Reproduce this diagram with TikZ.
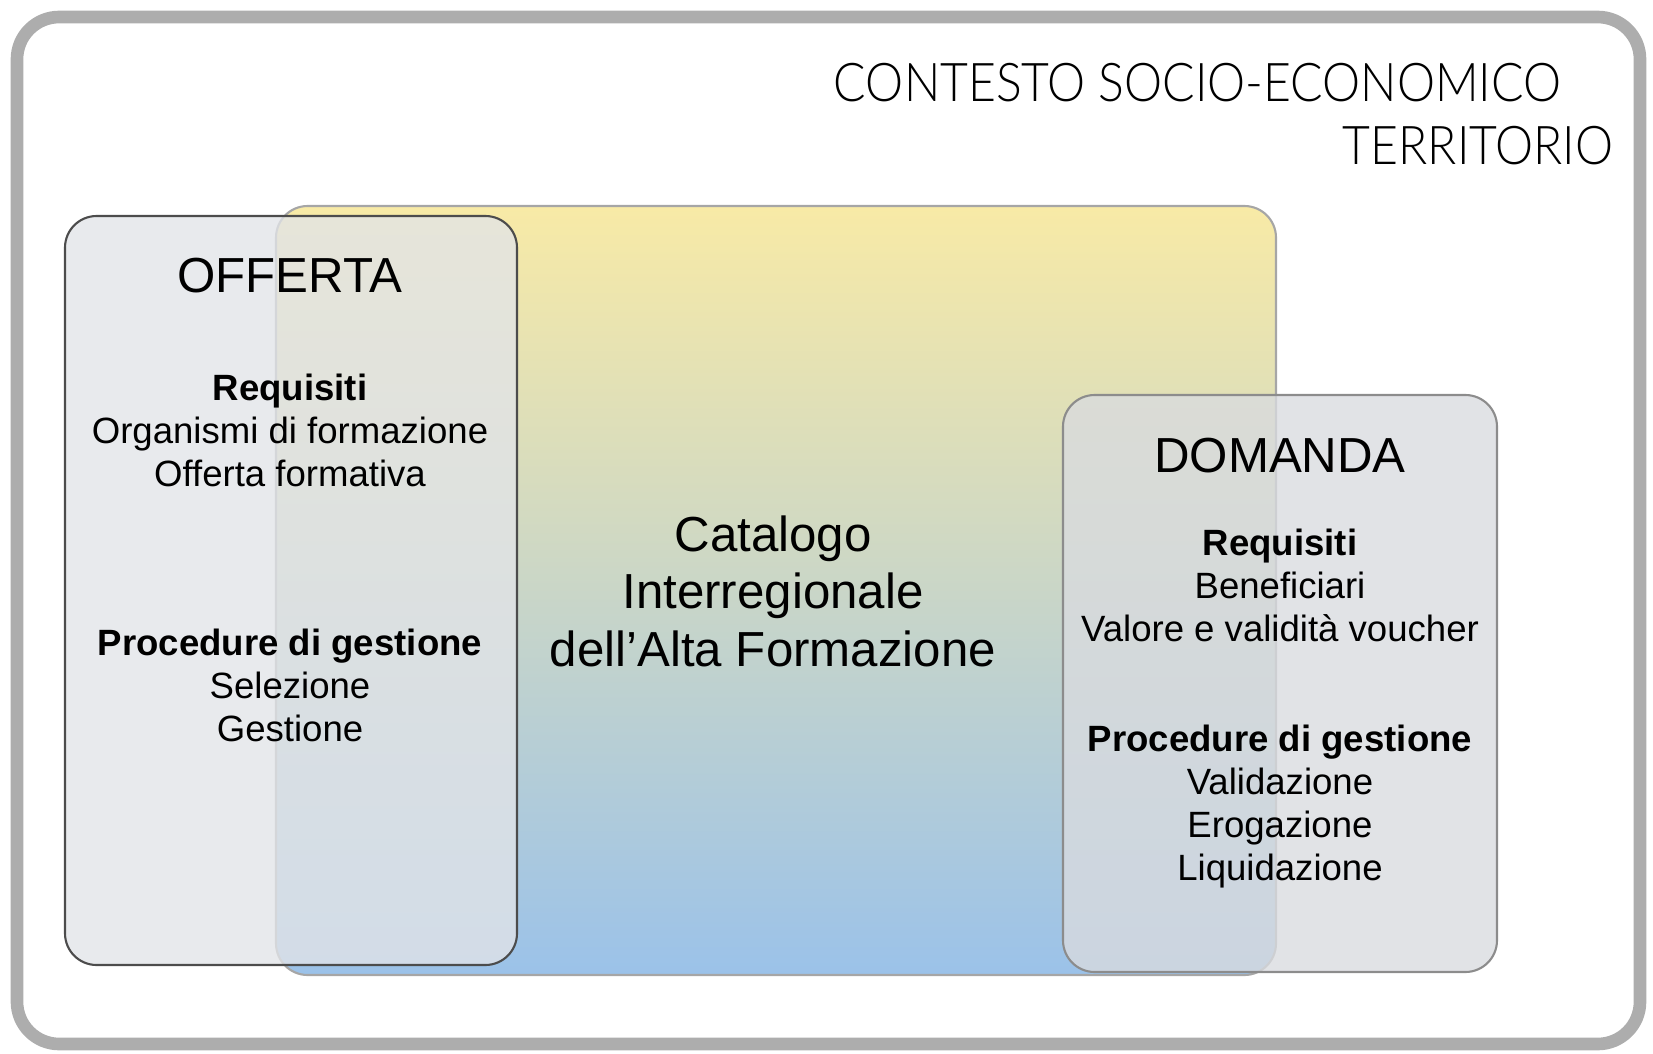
\documentclass[tikz,border=0pt]{standalone}
\usepackage{fontspec}
\setmainfont{Liberation Sans}
\newfontfamily\contextfont{Lato Light}[FakeStretch=0.9]
\definecolor{framegray}{HTML}{ADADAD}
\definecolor{panelgray}{HTML}{E2E4E8}
\definecolor{catyellow}{HTML}{F8EAA6}
\definecolor{catmid}{HTML}{D3DCC3}
\definecolor{catblue}{HTML}{9BC2E9}
\tikzstyle{frame} = [draw=framegray, line width=3.6pt, rounded corners=12pt]
\tikzstyle{catalogo} = [draw=black!35, line width=0.6pt, rounded corners=9pt,
    shading=axis, top color=catyellow, middle color=catmid, bottom color=catblue]
\tikzstyle{panel} = [draw=black!70, line width=0.6pt, rounded corners=9pt,
    fill=panelgray, fill opacity=0.78]
\tikzstyle{title} = [anchor=base, font=\fontsize{14}{16.3}\selectfont, inner sep=0pt]
\tikzstyle{voci} = [anchor=base, align=center, font=\fontsize{10.4}{12.2}\selectfont, inner sep=0pt]
\tikzstyle{contesto} = [anchor=base east, font=\contextfont\fontsize{15.2}{18}\selectfont, inner sep=0pt]

\begin{document}
\begin{tikzpicture}[x=0.01cm, y=-0.01cm]
	\useasboundingbox (0,0) rectangle (1653,1054);
	\draw[frame] (17,17) rectangle (1640,1044);
	
	% riquadri
	\draw[catalogo] (276,206) rectangle (1276,975);
	\draw[panel] (65,216) rectangle (517,965);
	\draw[panel, draw=black!45, fill=panelgray!96!black] (1063,395) rectangle (1497,972);
	
	% contesto
	\node(contesto1) [contesto] at (1562,101) {CONTESTO SOCIO-ECONOMICO};
	\node(contesto2) [contesto] at (1614,164) {TERRITORIO};
	
	% offerta (anchor base = ultima riga)
	\node(offerta) [title] at (290,292) {OFFERTA};
	\node(offreq) [voci] at (290,486) {\textbf{Requisiti}\\Organismi di formazione\\Offerta formativa};
	\node(offproc) [voci] at (290,741) {\textbf{Procedure di gestione}\\Selezione\\Gestione};
	
	% catalogo
	\node(catalogo) [title, align=center] at (773,666) {Catalogo\\Interregionale\\dell’Alta Formazione};
	
	% domanda
	\node(domanda) [title] at (1280,472) {DOMANDA};
	\node(domreq) [voci] at (1280,641) {\textbf{Requisiti}\\Beneficiari\\Valore e validità voucher};
	\node(domproc) [voci] at (1280,880) {\textbf{Procedure di gestione}\\Validazione\\Erogazione\\Liquidazione};
\end{tikzpicture}
\end{document}
